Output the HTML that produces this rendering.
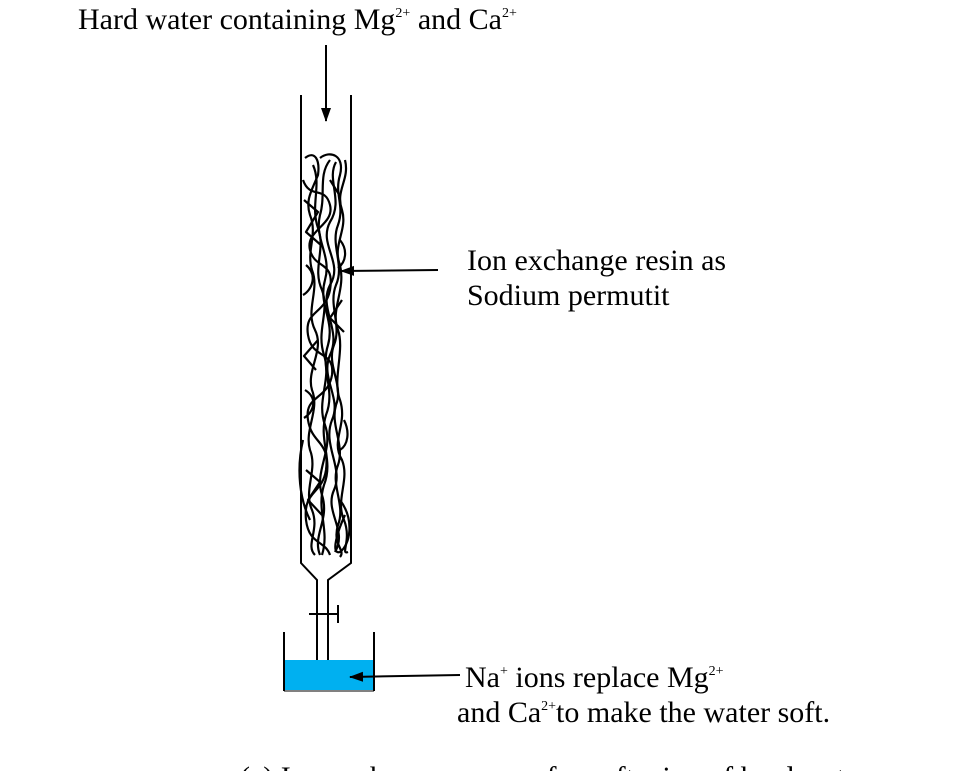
<!DOCTYPE html>
<html><head><style>
body{margin:0;background:#fff;width:953px;height:771px;overflow:hidden}
svg{position:absolute;left:0;top:0}
text{font-family:"Liberation Serif",serif;fill:#000}
</style></head><body>
<svg width="953" height="771" viewBox="0 0 953 771">
<defs>
<marker id="ah2" markerWidth="14" markerHeight="14" refX="13" refY="5" orient="auto" markerUnits="userSpaceOnUse"><path d="M0,0 L14,5 L0,10 z" fill="#000"/></marker></defs>
<text x="78" y="29" font-size="30">Hard water containing Mg<tspan font-size="14" dy="-12">2+</tspan><tspan dy="12"> and Ca</tspan><tspan font-size="14" dy="-12">2+</tspan></text>
<line x1="326" y1="45" x2="326" y2="121" stroke="#000" stroke-width="2" marker-end="url(#ah2)"/>
<g stroke="#000" stroke-width="2" fill="none">
<path d="M301,95 L301,563 L317,580 L317,660"/>
<path d="M351,95 L351,563 L328,580 L328,660"/>
<line x1="309" y1="614" x2="338" y2="614"/>
<line x1="338" y1="605" x2="338" y2="623"/>
</g>
<rect x="285" y="660" width="89" height="30" fill="#00b0f0"/>
<g stroke="#000" stroke-width="2"><line x1="284" y1="632" x2="284" y2="691"/><line x1="374" y1="632" x2="374" y2="691"/><line x1="284" y1="691" x2="374" y2="691" stroke-width="1"/></g>
<g stroke="#000" stroke-width="2.2" fill="none" stroke-linejoin="round">
<path d="M305,158 C315,150 320,160 318,175 C312,190 305,200 310,215 C318,235 306,250 312,270 C320,290 305,310 315,330 C325,350 306,370 312,390 C320,410 304,430 310,450 C318,470 303,490 312,510 C320,530 305,545 315,555"/>
<path d="M320,158 C330,150 345,155 340,175 C334,195 345,205 338,225 C330,245 345,265 336,285 C328,305 342,325 334,345 C326,365 344,385 336,405 C330,425 345,445 338,465 C330,485 346,505 338,525 C332,545 346,550 340,557"/>
<path d="M330,160 C318,175 326,195 320,215 C314,240 332,255 325,280 C318,305 335,320 328,345 C320,370 336,390 326,415 C318,440 334,460 324,485 C316,510 330,530 322,555"/>
<path d="M345,160 C350,180 335,190 342,210 C348,230 332,245 340,265 C346,290 330,310 338,330 C345,350 332,380 340,400 C348,425 330,440 342,460 C350,480 335,500 344,520 C352,540 340,555 348,552"/>
<path d="M303,180 C310,200 325,185 330,205 C335,225 305,230 310,250 C315,270 335,260 330,290 C325,315 304,310 308,335 C312,360 335,350 332,375 C328,400 304,395 308,420 C312,445 330,440 326,470 C322,495 303,490 306,520 C309,545 325,540 330,555"/>
<path d="M313,165 C322,185 310,205 318,228 C326,250 312,268 322,290 C330,312 316,330 324,355 C332,380 316,400 325,425 C334,450 314,470 322,495 C330,520 312,535 320,555"/>
<path d="M336,162 C326,180 344,200 330,222 C318,245 344,262 330,285 C318,308 342,330 330,355 C320,378 342,398 332,420 C322,445 344,468 334,490 C324,512 348,530 335,552"/>
<path d="M303,440 C296,470 300,500 310,520 M340,500 C355,520 350,545 340,552 C330,555 338,530 345,515"/>
<path d="M306,265 C318,275 312,290 303,295 M340,240 C348,250 346,262 338,268 M305,390 C318,398 314,412 304,418 M344,420 C350,432 348,445 340,450"/>
<path d="M304,200 L318,212 L306,232 L322,246 M342,300 L330,318 L344,332 M306,470 L320,482 L308,500 L322,515 M330,180 L340,196 M318,340 L304,356 L316,370"/>
</g>
<line x1="438" y1="270" x2="341" y2="271" stroke="#000" stroke-width="2" marker-end="url(#ah2)"/>
<text x="467" y="270" font-size="30">Ion exchange resin as</text>
<text x="467" y="305" font-size="30">Sodium permutit</text>
<line x1="460" y1="675" x2="350" y2="677" stroke="#000" stroke-width="2" marker-end="url(#ah2)"/>
<text x="465" y="687" font-size="30">Na<tspan font-size="14" dy="-12">+</tspan><tspan dy="12"> ions replace Mg</tspan><tspan font-size="14" dy="-12">2+</tspan></text>
<text x="457" y="722" font-size="30">and Ca<tspan font-size="14" dy="-12">2+</tspan><tspan dy="12">to make the water soft.</tspan></text>
<text x="240" y="787" font-size="30" fill="#444">(a) Ion exchange process for softening of hard water</text>
</svg>
</body></html>
